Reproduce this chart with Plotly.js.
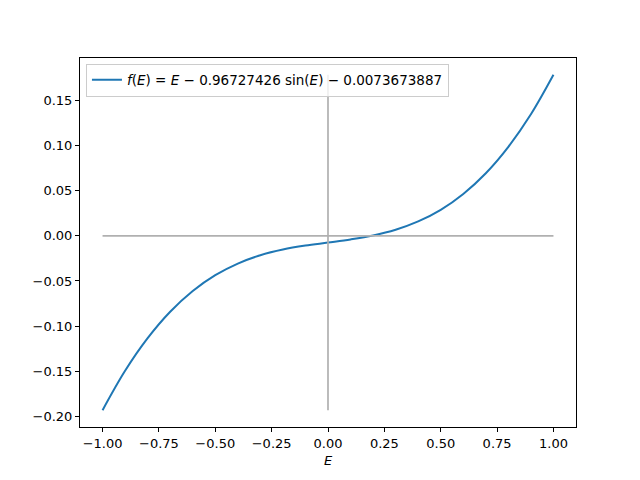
<!DOCTYPE html>
<html>
<head>
<meta charset="utf-8">
<script src="https://cdn.plot.ly/plotly-3.0.1.min.js"></script>
<style>
  html, body { margin: 0; padding: 0; background: #fff; }
  #chart { width: 640px; height: 480px; }
</style>
</head>
<body>
<div id="chart"></div>
<script>
// values, step 0.1
const energies = [-1.0, -0.9, -0.8, -0.7, -0.6, -0.5, -0.4, -0.3, -0.2, -0.1, 0.0,
                  0.1, 0.2, 0.3, 0.4, 0.5, 0.6, 0.7, 0.8, 0.9, 1.0];
const fValues = [-0.1934, -0.1497, -0.1135, -0.0842, -0.0612, -0.0436, -0.0307, -0.0215, -0.0152, -0.0108, -0.0074,
                 -0.0039, 0.0005, 0.0068, 0.0160, 0.0289, 0.0465, 0.0695, 0.0988, 0.1349, 0.1787];

// gray reference lines
const zeroLineX = [-1.0, 1.0];
const zeroLineY = [0.0, 0.0];
const axisLineX = [0.0, 0.0];
const axisLineY = [-0.1934, 0.1787];

const legendLabel = '<i>f</i>(<i>E</i>) = <i>E</i> − 0.96727426 sin(<i>E</i>) − 0.0073673887';

const xTicks = [-1.0, -0.75, -0.5, -0.25, 0.0, 0.25, 0.5, 0.75, 1.0];
const yTicks = [-0.20, -0.15, -0.10, -0.05, 0.00, 0.05, 0.10, 0.15];

const font = { family: 'DejaVu Sans, sans-serif', size: 13, color: '#000' };

const traces = [
    {
        x: energies, y: fValues,
        type: 'scatter', mode: 'lines',
        line: { color: '#1f77b4', width: 2, shape: 'spline' },
        name: legendLabel
    },
    {
        x: zeroLineX, y: zeroLineY,
        type: 'scatter', mode: 'lines',
        line: { color: '#b0b0b0', width: 1.7 },
        showlegend: false
    },
    {
        x: axisLineX, y: axisLineY,
        type: 'scatter', mode: 'lines',
        line: { color: '#b0b0b0', width: 1.7 },
        showlegend: false
    }
];

// matplotlib axes box: left 80, right 576, top 58, bottom 427
const layout = {
    width: 640, height: 480,
    margin: { l: 80, r: 64, t: 58, b: 53 },
    paper_bgcolor: '#fff', plot_bgcolor: '#fff',
    font: font,
    showlegend: true,
    legend: {
        x: 0.012, y: 0.985, xanchor: 'left', yanchor: 'top',
        bgcolor: 'rgba(255,255,255,0.8)',
        bordercolor: '#cccccc', borderwidth: 1,
        font: { family: 'DejaVu Sans, sans-serif', size: 13.5, color: '#000' }
    },
    xaxis: {
        range: [-1.1, 1.1],
        tickvals: xTicks,
        tickformat: '.2f',
        ticks: 'outside', ticklen: 4, tickcolor: '#000',
        showgrid: false, zeroline: false,
        showline: true, linecolor: '#000', linewidth: 1, mirror: true,
        title: { text: '<i>E</i>', font: font, standoff: 6 }
    },
    yaxis: {
        range: [-0.2120, 0.1973],
        tickvals: yTicks,
        tickformat: '.2f',
        ticks: 'outside', ticklen: 4, tickcolor: '#000',
        showgrid: false, zeroline: false,
        showline: true, linecolor: '#000', linewidth: 1, mirror: true
    }
};

Plotly.newPlot('chart', traces, layout, { displayModeBar: false, staticPlot: true });
</script>
</body>
</html>
